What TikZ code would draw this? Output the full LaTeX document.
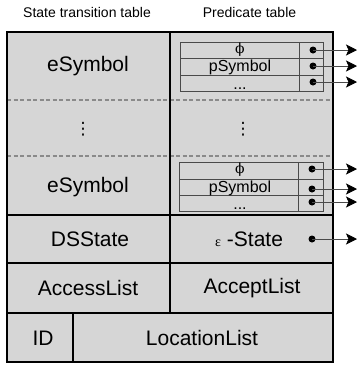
\documentclass[tikz,border=0pt]{standalone}
\usepackage{fontspec}
\setmainfont{Liberation Sans}
\newfontfamily\serifgr{Liberation Serif}
\newfontfamily\phifont{DejaVu Serif}
\newfontfamily\symfont{DejaVu Sans}
\usetikzlibrary{arrows.meta}
\definecolor{cellgray}{HTML}{D6D6D6}
\definecolor{linegray}{HTML}{4A4A4A}
\definecolor{dashgray}{HTML}{8A8A8A}
\tikzset{
  big/.style={font=\fontsize{21}{21}\selectfont, inner sep=0pt},
  head/.style={font=\fontsize{14}{14}\selectfont, inner sep=0pt},
  small/.style={font=\fontsize{16}{16}\selectfont, inner sep=0pt},
  phistyle/.style={font=\phifont\fontsize{14}{14}\selectfont, inner sep=0pt},
  thinline/.style={draw=linegray, line width=0.7pt},
  frame/.style={draw=black, line width=1.5pt},
  dashline/.style={draw=dashgray, line width=1.1pt, dash pattern=on 4pt off 2.5pt},
  ptr/.style={circle, fill=black, inner sep=0pt, minimum size=7pt},
  arr/.style={draw=linegray, line width=0.8pt, -{Stealth[length=11pt,width=11pt,inset=2.5pt,color=black]}},
  vdot/.style={font=\symfont\fontsize{17}{17}\selectfont, inner sep=0pt}
}
\begin{document}
\begin{tikzpicture}[x=1pt,y=-1pt]
\useasboundingbox (0,0) rectangle (358,365);
% headers
\node[head] (h1) at (87,12) {State transition table};
\node[head] (h2) at (249.5,12) {Predicate table};
% outer table
\fill[cellgray] (7,32) rectangle (333,362);
\draw[dashline] (7,100) -- (333,100);
\draw[dashline] (7,156) -- (333,156);
\draw[frame] (170,32) -- (170,215);
\draw[frame] (7,215) -- (333,215);
\draw[frame] (170,215) -- (170,263);
\draw[frame] (7,263) -- (333,263);
\draw[frame] (170,263) -- (170,313);
\draw[frame] (7,313) -- (333,313);
\draw[frame] (73,313) -- (73,362);
\draw[frame] (7,32) rectangle (333,362);
% left column texts
\node[big] (es1) at (88,66) {eSymbol};
\node[vdot] (vd1) at (83,129) {⋮};
\node[vdot] (vd2) at (243,129) {⋮};
\node[big] (es2) at (88,187) {eSymbol};
\node[big] (ds) at (90,239) {DSState};
\node[big, anchor=west] (eps) at (215,239) {{\serifgr\fontsize{14}{14}\selectfont ε} -State};
\node[big] (acc) at (88,288) {AccessList};
\node[big] (acp) at (252,288) {AcceptList};
\node[big] (id) at (43,338) {ID};
\node[big] (loc) at (202,338) {LocationList};
% predicate table 1
\draw[thinline] (180,42) rectangle (323,91);
\draw[thinline] (180,58) -- (323,58);
\draw[thinline] (180,75) -- (323,75);
\draw[thinline] (299,42) -- (299,91);
\node[phistyle] (phi1) at (240,49.5) {ϕ};
\node[small, anchor=base] (ps1) at (240,71.5) {pSymbol};
\node[small, anchor=base] (dd1) at (240,89) {...};
\node[ptr] (p11) at (313,50) {};
\node[ptr] (p12) at (313,66) {};
\node[ptr] (p13) at (313,82) {};
\coordinate (t11) at (357,50);
\coordinate (t12) at (357,66);
\coordinate (t13) at (357,82);
\draw[arr] (p11.center) -- (t11);
\draw[arr] (p12.center) -- (t12);
\draw[arr] (p13.center) -- (t13);
% predicate table 2
\draw[thinline] (179,162) rectangle (323,211);
\draw[thinline] (179,179) -- (323,179);
\draw[thinline] (179,195) -- (323,195);
\draw[thinline] (298,162) -- (298,211);
\node[phistyle] (phi2) at (240,170) {ϕ};
\node[small, anchor=base] (ps2) at (240,192) {pSymbol};
\node[small, anchor=base] (dd2) at (240,209) {...};
\node[ptr] (p21) at (312,169) {};
\node[ptr] (p22) at (312,189) {};
\node[ptr] (p23) at (312,202) {};
\coordinate (t21) at (357,169);
\coordinate (t22) at (357,189);
\coordinate (t23) at (357,202);
\draw[arr] (p21.center) -- (t21);
\draw[arr] (p22.center) -- (t22);
\draw[arr] (p23.center) -- (t23);
% epsilon pointer
\node[ptr] (pe) at (312,239) {};
\coordinate (te) at (357,239);
\draw[arr] (pe.center) -- (te);
\end{tikzpicture}
\end{document}
